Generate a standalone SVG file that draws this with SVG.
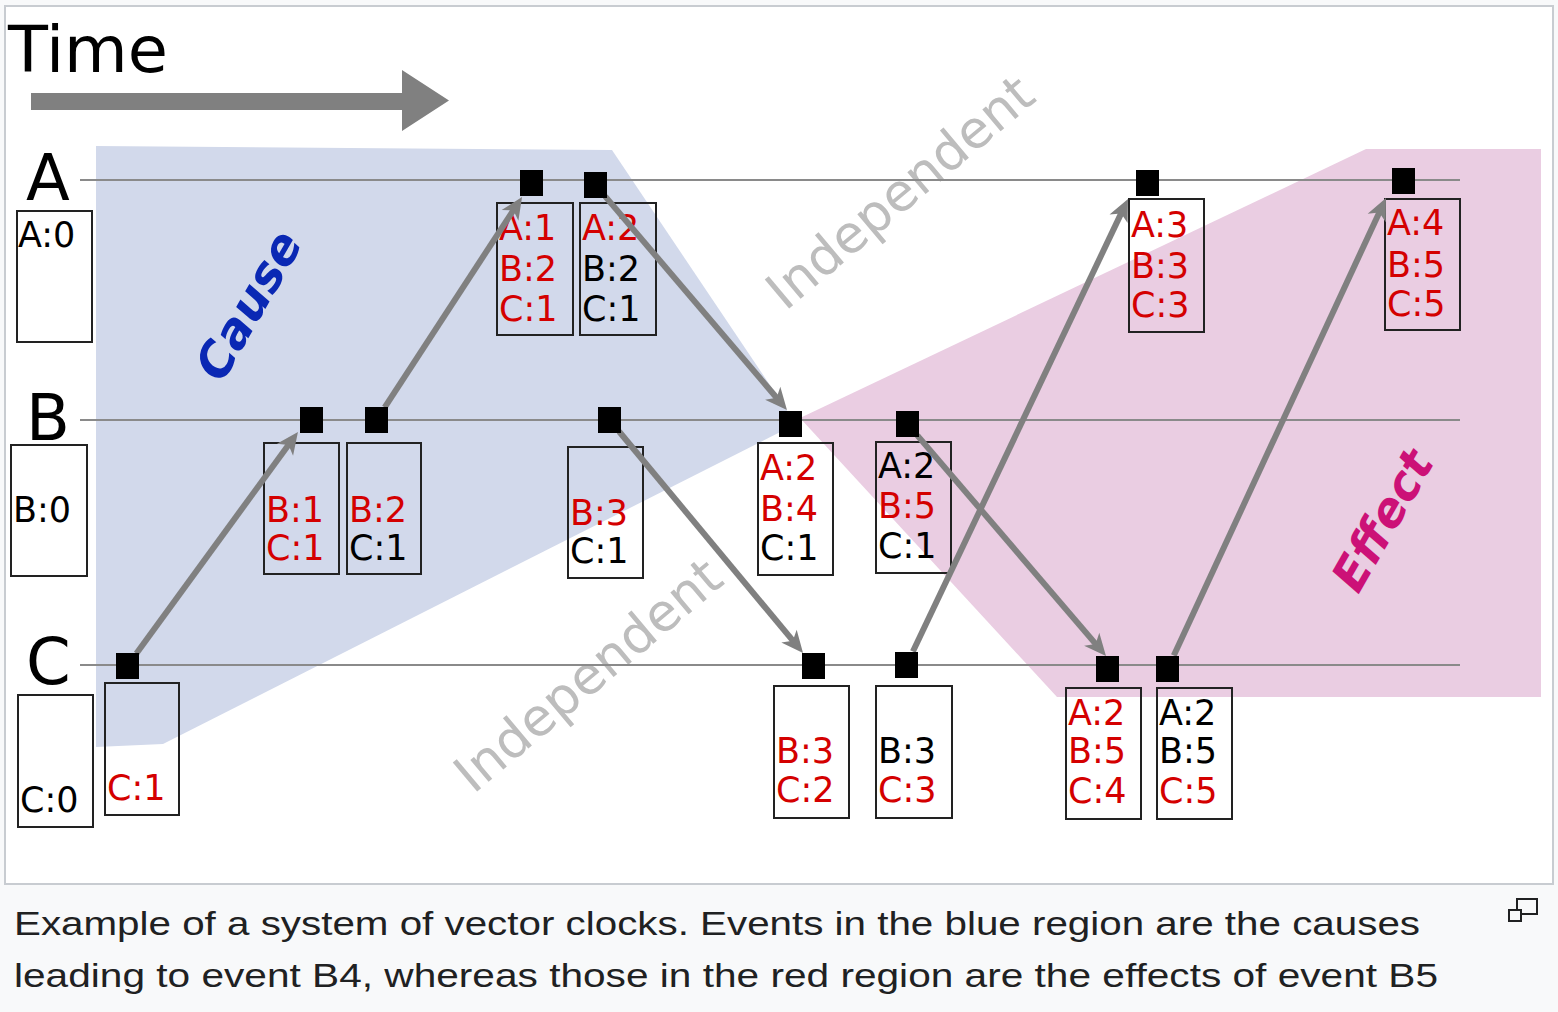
<svg xmlns="http://www.w3.org/2000/svg" width="1558" height="1012" viewBox="0 0 1558 1012">
<style>
.t{font-family:"DejaVu Sans",sans-serif;font-size:35px}
.r{fill:#d40000}
.k{fill:#000}
.box{fill:none;stroke:#222;stroke-width:2}
.ev{fill:#000}
.lane{stroke:#8a8a8a;stroke-width:2}
.arr{stroke:#808080;stroke-width:6;fill:none;marker-end:url(#ah)}
.ind{font-family:"DejaVu Sans",sans-serif;font-size:52px;fill:#bdbdbd}
.big{font-family:"DejaVu Sans",sans-serif;font-size:64px;fill:#000}
.cap{font-family:"Liberation Sans",Arial,sans-serif;font-size:33px;fill:#202122}
</style>
<defs>
<marker id="ah" markerUnits="userSpaceOnUse" orient="auto" refX="0" refY="0" markerWidth="30" markerHeight="24" viewBox="-10 -12 30 24" overflow="visible">
<path d="M14,0 L-8,-10 L-2,0 L-8,10 Z" fill="#808080"/>
</marker>
</defs>
<rect x="0" y="0" width="1558" height="1012" fill="#f8f9fa"/>
<rect x="5" y="6" width="1548" height="878" fill="#fff" stroke="#c8ccd1" stroke-width="2"/>
<g id="regions">
<polygon points="96,146 612,150 796,424 163,744 96,747" fill="#d2d9eb"/>
<polygon points="800,418 1366,149 1541,149 1541,697 1057,697" fill="#eacde2"/>
</g>
<g id="labels">
<text x="8" y="72" class="big" font-size="70" textLength="160" lengthAdjust="spacingAndGlyphs">Time</text>
<polygon points="31,93 402,93 402,70 449,100.5 402,131 402,110 31,110" fill="#808080"/>
<text x="26" y="200" class="big">A</text>
<text x="26" y="440" class="big">B</text>
<text x="26" y="684" class="big">C</text>
<text transform="translate(248,305) rotate(-60)" x="0" y="17" text-anchor="middle" font-family="DejaVu Sans,sans-serif" font-size="48" font-weight="bold" font-style="italic" fill="#0a28b4">Cause</text>
<text transform="translate(1382,520) rotate(-60)" x="0" y="17" text-anchor="middle" font-family="DejaVu Sans,sans-serif" font-size="47" font-weight="bold" font-style="italic" fill="#cc1177">Effect</text>
<text transform="translate(900,192) rotate(-40)" x="0" y="18" text-anchor="middle" class="ind">Independent</text>
<text transform="translate(588,675) rotate(-40)" x="0" y="18" text-anchor="middle" class="ind">Independent</text>
</g>
<g id="lanes">
<line x1="80" y1="180" x2="1460" y2="180" class="lane"/>
<line x1="80" y1="420" x2="1460" y2="420" class="lane"/>
<line x1="80" y1="665" x2="1460" y2="665" class="lane"/>
</g>
<g id="A0"><rect x="17" y="211" width="75" height="131" class="box" style="fill:#fff"/><text x="18" y="247" class="t k">A:0</text></g>
<g id="B0"><rect x="11" y="445" width="76" height="131" class="box" style="fill:#fff"/><text x="13" y="522" class="t k">B:0</text></g>
<g id="C0"><rect x="18" y="695" width="75" height="132" class="box" style="fill:#fff"/><text x="20" y="812" class="t k">C:0</text></g>
<g id="A1"><rect x="497" y="203" width="76" height="132" class="box"/><text x="499" y="240" class="t r">A:1</text><text x="499" y="281" class="t r">B:2</text><text x="499" y="321" class="t r">C:1</text></g>
<g id="A2"><rect x="580" y="203" width="76" height="132" class="box"/><text x="582" y="240" class="t r">A:2</text><text x="582" y="281" class="t k">B:2</text><text x="582" y="321" class="t k">C:1</text></g>
<g id="A3"><rect x="1129" y="199" width="75" height="133" class="box"/><text x="1131" y="237" class="t r">A:3</text><text x="1131" y="278" class="t r">B:3</text><text x="1131" y="317" class="t r">C:3</text></g>
<g id="A4"><rect x="1385" y="199" width="75" height="131" class="box"/><text x="1387" y="235" class="t r">A:4</text><text x="1387" y="277" class="t r">B:5</text><text x="1387" y="316" class="t r">C:5</text></g>
<g id="B1"><rect x="264" y="443" width="75" height="131" class="box"/><text x="266" y="522" class="t r">B:1</text><text x="266" y="560" class="t r">C:1</text></g>
<g id="B2"><rect x="347" y="443" width="74" height="131" class="box"/><text x="349" y="522" class="t r">B:2</text><text x="349" y="560" class="t k">C:1</text></g>
<g id="B3"><rect x="568" y="447" width="75" height="131" class="box"/><text x="570" y="525" class="t r">B:3</text><text x="570" y="563" class="t k">C:1</text></g>
<g id="B4"><rect x="758" y="443" width="75" height="132" class="box"/><text x="760" y="480" class="t r">A:2</text><text x="760" y="521" class="t r">B:4</text><text x="760" y="560" class="t k">C:1</text></g>
<g id="B5"><rect x="876" y="442" width="75" height="131" class="box"/><text x="878" y="478" class="t k">A:2</text><text x="878" y="518" class="t r">B:5</text><text x="878" y="558" class="t k">C:1</text></g>
<g id="C1"><rect x="105" y="683" width="74" height="132" class="box"/><text x="107" y="800" class="t r">C:1</text></g>
<g id="C2"><rect x="774" y="686" width="75" height="132" class="box"/><text x="776" y="763" class="t r">B:3</text><text x="776" y="802" class="t r">C:2</text></g>
<g id="C3"><rect x="876" y="686" width="76" height="132" class="box"/><text x="878" y="763" class="t k">B:3</text><text x="878" y="802" class="t r">C:3</text></g>
<g id="C4"><rect x="1066" y="688" width="75" height="131" class="box"/><text x="1068" y="725" class="t r">A:2</text><text x="1068" y="763" class="t r">B:5</text><text x="1068" y="803" class="t r">C:4</text></g>
<g id="C5"><rect x="1157" y="688" width="75" height="131" class="box"/><text x="1159" y="725" class="t k">A:2</text><text x="1159" y="763" class="t k">B:5</text><text x="1159" y="803" class="t r">C:5</text></g>
<g id="connectors">
<line x1="136.4" y1="653.4" x2="289.7" y2="443.3" class="arr"/>
<line x1="384.7" y1="407.4" x2="514.4" y2="208.7" class="arr"/>
<line x1="605.2" y1="196.4" x2="777.9" y2="399.3" class="arr"/>
<line x1="619.1" y1="431.5" x2="794.1" y2="642.2" class="arr"/>
<line x1="912.9" y1="651.5" x2="1122.0" y2="211.6" class="arr"/>
<line x1="917.3" y1="435.4" x2="1096.9" y2="645.4" class="arr"/>
<line x1="1173.8" y1="655.4" x2="1380.1" y2="210.7" class="arr"/>
</g>
<g id="events">
<rect x="520" y="170" width="23" height="26" class="ev"/>
<rect x="584" y="172" width="23" height="26" class="ev"/>
<rect x="1136" y="170" width="23" height="26" class="ev"/>
<rect x="1392" y="168" width="23" height="26" class="ev"/>
<rect x="300" y="407" width="23" height="26" class="ev"/>
<rect x="365" y="407" width="23" height="26" class="ev"/>
<rect x="598" y="407" width="23" height="26" class="ev"/>
<rect x="779" y="411" width="23" height="26" class="ev"/>
<rect x="896" y="411" width="23" height="26" class="ev"/>
<rect x="116" y="653" width="23" height="26" class="ev"/>
<rect x="802" y="653" width="23" height="26" class="ev"/>
<rect x="895" y="652" width="23" height="26" class="ev"/>
<rect x="1096" y="656" width="23" height="26" class="ev"/>
<rect x="1156" y="656" width="23" height="26" class="ev"/>
</g>
<g id="caption">
<text x="14" y="935" class="cap" textLength="1406" lengthAdjust="spacingAndGlyphs">Example of a system of vector clocks. Events in the blue region are the causes</text>
<text x="14" y="987" class="cap" textLength="1424" lengthAdjust="spacingAndGlyphs">leading to event B4, whereas those in the red region are the effects of event B5</text>
<rect x="1517" y="899" width="20" height="15" fill="none" stroke="#202122" stroke-width="2"/>
<rect x="1509" y="910" width="12" height="11" fill="#f8f9fa" stroke="#202122" stroke-width="2"/>
</g>
</svg>
